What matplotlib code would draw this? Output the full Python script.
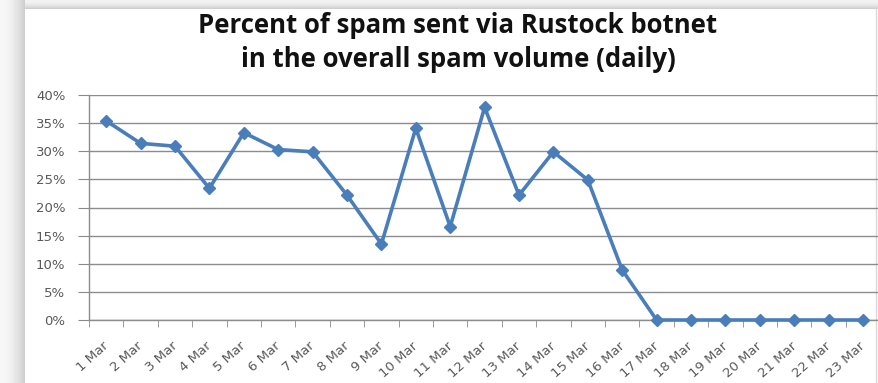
import matplotlib
matplotlib.use("Agg")
import matplotlib.pyplot as plt
import numpy as np
from matplotlib.patches import Rectangle
from matplotlib.ticker import FixedLocator, PercentFormatter
from matplotlib.transforms import ScaledTranslation

# Daily share of spam sent via the Rustock botnet
days = ["1 Mar", "2 Mar", "3 Mar", "4 Mar", "5 Mar", "6 Mar", "7 Mar", "8 Mar",
        "9 Mar", "10 Mar", "11 Mar", "12 Mar", "13 Mar", "14 Mar", "15 Mar",
        "16 Mar", "17 Mar", "18 Mar", "19 Mar", "20 Mar", "21 Mar", "22 Mar",
        "23 Mar"]
share_pct = [35.4, 31.4, 30.9, 23.4, 33.3, 30.3, 29.9, 22.2, 13.5, 34.1, 16.6,
             37.8, 22.2, 29.9, 24.9, 8.9, 0, 0, 0, 0, 0, 0, 0]
y_ticks = [0, 5, 10, 15, 20, 25, 30, 35, 40]

W, H = 879, 383
fig = plt.figure(figsize=(W / 100, H / 100), dpi=100)
fig.patch.set_facecolor("white")

# chart-frame shadow along the top and left edges
bg = fig.add_axes([0, 0, 1, 1], zorder=-10)
bg.set_xlim(0, W)
bg.set_ylim(H, 0)
bg.axis("off")
for i in range(25):
    g = 0.97 - 0.16 * (i / 24) ** 2
    bg.add_patch(Rectangle((i, 0), 1, H, color=(g, g, g), lw=0))
for j in range(9):
    g = 0.95 - 0.14 * (j / 8) ** 2
    bg.add_patch(Rectangle((25, j), W - 25, 1, color=(g, g, g), lw=0))
bg.add_patch(Rectangle((25, 9), W - 28, H - 9, color="white", lw=0))
bg.plot([876, 876], [9, H], color="#d9d9d9", lw=1)

# plot area
left, right = 89 / W, 880.2 / W
bottom, top = 1 - 320 / H, 1 - 95 / H
ax = fig.add_axes([left, bottom, right - left, top - bottom])
ax.set_facecolor("none")

x = np.arange(len(days))
ax.plot(x, share_pct, color="#4a7ebb", lw=2.6, marker="D", markersize=6.5,
        markerfacecolor="#4a7ebb", markeredgecolor="#4a7ebb", clip_on=False,
        zorder=5)

ax.set_xlim(-0.5, len(days) - 0.5)
ax.set_ylim(0, 40)
ax.set_yticks(y_ticks)
ax.yaxis.set_major_formatter(PercentFormatter(decimals=0))
ax.yaxis.grid(True, color="#8c8c8c", lw=1)
ax.set_axisbelow(True)

ax.set_xticks(x)
ax.set_xticklabels(days, rotation=42, ha="right", va="top",
                   rotation_mode="anchor")
ax.xaxis.set_minor_locator(FixedLocator(np.arange(-0.5, len(days), 1.0)))
ax.tick_params(axis="x", which="major", length=0, pad=14, labelsize=9.5,
               labelcolor="#595959")
ax.tick_params(axis="x", which="minor", length=5, color="#8c8c8c",
               direction="out")
ax.tick_params(axis="y", length=8, color="#8c8c8c", direction="out",
               labelsize=9.5, labelcolor="#595959", pad=9)
shift = ScaledTranslation(-4 / 100, 0, fig.dpi_scale_trans)
for lab in ax.get_xticklabels():
    lab.set_transform(lab.get_transform() + shift)

for s in ("top", "right"):
    ax.spines[s].set_visible(False)
for s in ("left", "bottom"):
    ax.spines[s].set_color("#8c8c8c")
    ax.spines[s].set_linewidth(1)

title_kw = dict(ha="center", va="baseline", fontsize=18.5, fontweight="bold",
                family="Open Sans", color="#111111")
fig.text(458 / W, 1 - 33 / H, "Percent of spam sent via Rustock botnet",
         **title_kw)
fig.text(458 / W, 1 - 67 / H, "in the overall spam volume (daily)",
         **title_kw)

fig.savefig("out.png", dpi=100)
